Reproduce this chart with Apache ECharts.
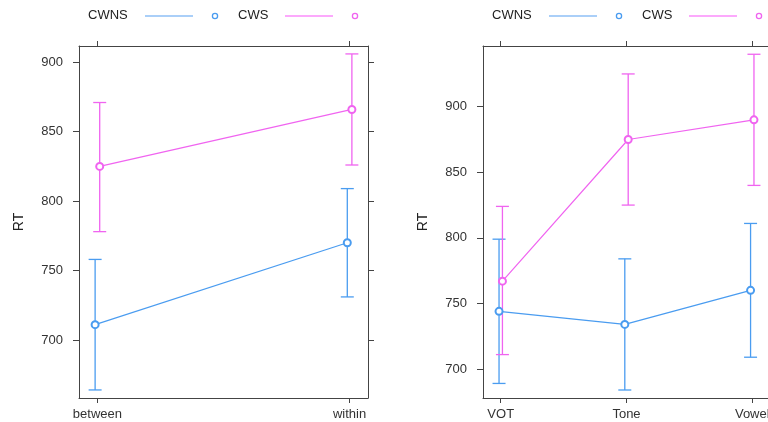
<!DOCTYPE html>
<html>
<head>
<meta charset="utf-8">
<script src="https://cdn.jsdelivr.net/npm/echarts@6/dist/echarts.min.js"></script>
<style>html,body{margin:0;padding:0;background:#fff}#c{width:768px;height:422px}</style>
</head>
<body>
<div id="c"></div>
<script>
// ---- data ----
const leftCats = ['between', 'within'];
const leftCWNS = [711, 770];
const leftCWNSLo = [664, 731];
const leftCWNSHi = [758, 809];
const leftCWS = [825, 866];
const leftCWSLo = [778, 826];
const leftCWSHi = [871, 906];

const rightCats = ['VOT', 'Tone', 'Vowel'];
const rightCWNS = [744, 734, 760];
const rightCWNSLo = [689, 684, 709];
const rightCWNSHi = [799, 784, 811];
const rightCWS = [767, 875, 890];
const rightCWSLo = [711, 825, 840];
const rightCWSHi = [824, 925, 940];

const yTicks = [700, 750, 800, 850, 900];
const seriesNames = ['CWNS', 'CWS'];

// ---- styles ----
const BLUE = '#4a9cf0';
const PINK = '#f064f0';
const AXIS = '#444';
const TXT = '#333';
const FONT = '"Liberation Sans", Arial, Helvetica, sans-serif';

const chart = echarts.init(document.getElementById('c'), null, {renderer: 'canvas'});

function pts(means, dodge) {
  return means.map((m, i) => [i + 1 + dodge, m]);
}
function bars(lo, hi, dodge) {
  return lo.map((l, i) => [i + 1 + dodge, l, hi[i]]);
}
function errRender(color) {
  return function (params, api) {
    const x = api.value(0);
    const top = api.coord([x, api.value(2)]);
    const bot = api.coord([x, api.value(1)]);
    const hw = 6.5;
    const st = {stroke: color, lineWidth: 1.3};
    return {
      type: 'group',
      children: [
        {type: 'line', shape: {x1: top[0], y1: top[1], x2: bot[0], y2: bot[1]}, style: st},
        {type: 'line', shape: {x1: top[0] - hw, y1: top[1], x2: top[0] + hw, y2: top[1]}, style: st},
        {type: 'line', shape: {x1: bot[0] - hw, y1: bot[1], x2: bot[0] + hw, y2: bot[1]}, style: st}
      ]
    };
  };
}

function xAxes(grid, min, max, cats, ticks) {
  const base = {
    gridIndex: grid, type: 'value', min: min, max: max,
    splitLine: {show: false},
    axisLine: {show: true, onZero: false, lineStyle: {color: AXIS, width: 1}},
    axisTick: {show: true, customValues: ticks, length: 5, lineStyle: {color: AXIS}}
  };
  return [
    Object.assign({}, base, {
      position: 'bottom',
      axisLabel: {customValues: ticks, formatter: v => cats[Math.round(v) - 1], margin: 10,
        fontSize: 13, color: TXT, fontFamily: FONT, hideOverlap: false}
    }),
    Object.assign({}, base, {position: 'top', axisLabel: {show: false}})
  ];
}
function yAxes(grid, min, max) {
  const base = {
    gridIndex: grid, type: 'value', min: min, max: max,
    splitLine: {show: false},
    axisLine: {show: true, onZero: false, lineStyle: {color: AXIS, width: 1}},
    axisTick: {show: true, customValues: yTicks, length: 6, lineStyle: {color: AXIS}}
  };
  return [
    Object.assign({}, base, {
      position: 'left',
      name: 'RT', nameLocation: 'middle', nameGap: 53,
      nameTextStyle: {fontSize: 14, color: '#222', fontFamily: FONT},
      axisLabel: {customValues: yTicks, margin: 16, fontSize: 13, color: TXT, fontFamily: FONT}
    }),
    Object.assign({}, base, {position: 'right', axisLabel: {show: false}})
  ];
}

const LD = 0.0091, RD = 0.0135;

function lineSeries(name, data, color, xi, yi) {
  return {
    type: 'line', name: name, data: data, xAxisIndex: xi, yAxisIndex: yi,
    symbol: 'emptyCircle', symbolSize: 7, showSymbol: true,
    lineStyle: {color: color, width: 1.2},
    itemStyle: {color: color, borderColor: color, borderWidth: 0.9},
    emphasis: {disabled: true},
    animation: false, z: 3
  };
}
function errSeries(data, color, xi, yi) {
  return {
    type: 'custom', data: data, xAxisIndex: xi, yAxisIndex: yi,
    renderItem: errRender(color), animation: false, z: 2,
    encode: {x: 0, y: [1, 2]}
  };
}

function legend(x0, offs) {
  const els = [];
  const y = 16;
  const cols = [BLUE, PINK];
  const light = ['#8ebff6', '#fb8cfb'];
  seriesNames.forEach((n, k) => {
    const o = offs[k];
    els.push({type: 'text', left: x0 + o.t, top: y - 7,
      style: {text: n, fontSize: 13, fill: '#222', fontFamily: FONT}});
    els.push({type: 'line', shape: {x1: x0 + o.l1, y1: y, x2: x0 + o.l2, y2: y},
      style: {stroke: light[k], lineWidth: 1.3}});
    els.push({type: 'circle', shape: {cx: x0 + o.c, cy: y, r: 2.6},
      style: {stroke: cols[k], fill: 'none', lineWidth: 1.3}});
  });
  return els;
}
const legOffs = [{t: 0, l1: 57, l2: 105, c: 127}, {t: 150, l1: 197, l2: 245, c: 267}];

const option = {
  backgroundColor: '#fff',
  textStyle: {fontFamily: FONT},
  grid: [
    {left: 79, top: 46, width: 289, height: 352, outerBoundsMode: 'none', containLabel: false},
    {left: 483, top: 46, width: 287, height: 352, outerBoundsMode: 'none', containLabel: false}
  ],
  xAxis: [].concat(
    xAxes(0, 0.927, 2.073, leftCats, [1, 2]),
    xAxes(1, 0.859, 3.141, rightCats, [1, 2, 3])
  ),
  yAxis: [].concat(
    yAxes(0, 658.2, 911.7),
    yAxes(1, 677.9, 946.3)
  ),
  series: [
    errSeries(bars(leftCWNSLo, leftCWNSHi, -LD), BLUE, 0, 0),
    errSeries(bars(leftCWSLo, leftCWSHi, LD), PINK, 0, 0),
    lineSeries('CWNS', pts(leftCWNS, -LD), BLUE, 0, 0),
    lineSeries('CWS', pts(leftCWS, LD), PINK, 0, 0),
    errSeries(bars(rightCWNSLo, rightCWNSHi, -RD), BLUE, 2, 2),
    errSeries(bars(rightCWSLo, rightCWSHi, RD), PINK, 2, 2),
    lineSeries('CWNS', pts(rightCWNS, -RD), BLUE, 2, 2),
    lineSeries('CWS', pts(rightCWS, RD), PINK, 2, 2)
  ],
  graphic: [].concat(legend(88, legOffs), legend(492, legOffs))
};
chart.setOption(option);
</script>
</body>
</html>
